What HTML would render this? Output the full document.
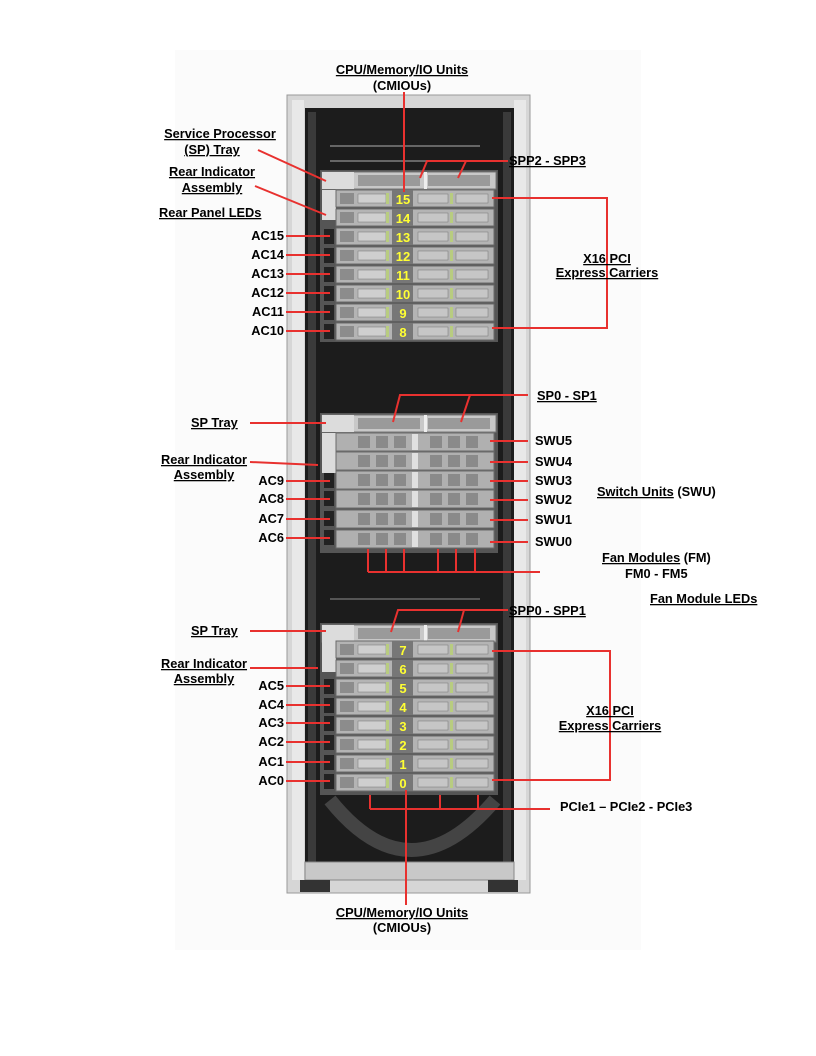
<!DOCTYPE html>
<html><head><meta charset="utf-8"><style>
html,body{margin:0;padding:0;background:#fff}
svg{display:block}
text{font-family:"Liberation Sans",Arial,sans-serif;font-weight:bold;font-size:12.8px;fill:#000}
.u{text-decoration:underline}
.n{fill:#ffff33;font-size:13px}
</style></head><body>
<svg width="816" height="1056" viewBox="0 0 816 1056" xmlns="http://www.w3.org/2000/svg">
<defs>
<g id="blade">
  <rect x="336" y="0" width="158" height="17" fill="#b4b4b4" stroke="#6a6a6a" stroke-width="1"/>
  <rect x="340" y="3" width="14" height="11" fill="#8c8c8c"/>
  <rect x="358" y="4" width="28" height="9" fill="#cfcfcf" stroke="#777" stroke-width="0.5"/>
  <rect x="392" y="0" width="21" height="17" fill="#777"/>
  <rect x="418" y="4" width="30" height="9" fill="#c6c6c6" stroke="#777" stroke-width="0.5"/>
  <rect x="456" y="4" width="32" height="9" fill="#c6c6c6" stroke="#777" stroke-width="0.5"/>
  <rect x="386" y="3" width="3" height="11" fill="#b8cc80"/>
  <rect x="450" y="3" width="3" height="11" fill="#b8cc80"/>
</g>
<g id="swu">
  <rect x="336" y="0" width="158" height="18" fill="#b0b0b0" stroke="#6a6a6a" stroke-width="1"/>
  <rect x="358" y="3" width="12" height="12" fill="#8a8a8a"/>
  <rect x="376" y="3" width="12" height="12" fill="#8a8a8a"/>
  <rect x="394" y="3" width="12" height="12" fill="#8a8a8a"/>
  <rect x="412" y="1" width="6" height="16" fill="#e0e0e0"/>
  <rect x="430" y="3" width="12" height="12" fill="#8a8a8a"/>
  <rect x="448" y="3" width="12" height="12" fill="#8a8a8a"/>
  <rect x="466" y="3" width="12" height="12" fill="#8a8a8a"/>
</g>
<g id="sptray">
  <rect x="322" y="0" width="174" height="17" fill="#c8c8c8" stroke="#777"/>
  <rect x="322" y="0" width="32" height="17" fill="#dcdcdc"/>
  <rect x="358" y="3" width="62" height="11" fill="#9a9a9a"/>
  <rect x="428" y="3" width="62" height="11" fill="#9a9a9a"/>
  <rect x="424" y="0" width="3" height="17" fill="#eee"/>
</g>
<g id="acleds">
  <rect x="324" y="0" width="10" height="15" fill="#222"/>
</g>
</defs>

<rect x="175" y="50" width="466" height="900" fill="#fbfbfb"/>
<rect x="287" y="95" width="243" height="798" fill="#d6d6d6" stroke="#999"/>
<rect x="292" y="100" width="12" height="780" fill="#e8e8e8"/>
<rect x="514" y="100" width="12" height="780" fill="#e8e8e8"/>
<rect x="305" y="108" width="209" height="758" fill="#1c1c1c"/>
<rect x="308" y="112" width="8" height="750" fill="#3a3a3a"/>
<rect x="503" y="112" width="8" height="750" fill="#3a3a3a"/>
<rect x="330" y="145" width="150" height="2" fill="#666"/>
<rect x="330" y="160" width="150" height="2" fill="#666"/>
<rect x="330" y="598" width="150" height="2" fill="#555"/>
<path d="M330 800 Q410 900 495 800" stroke="#444" stroke-width="14" fill="none"/>
<rect x="305" y="862" width="209" height="18" fill="#c8c8c8" stroke="#888"/>
<rect x="300" y="880" width="30" height="12" fill="#333"/>
<rect x="488" y="880" width="30" height="12" fill="#333"/>

<rect x="320" y="170" width="178" height="172" fill="#555"/>
<use href="#sptray" y="172"/>
<rect x="322" y="190" width="14" height="30" fill="#dcdcdc"/>
<use href="#blade" y="190"/><use href="#blade" y="209"/><use href="#blade" y="228"/><use href="#blade" y="247"/>
<use href="#blade" y="266"/><use href="#blade" y="285"/><use href="#blade" y="304"/><use href="#blade" y="323"/>
<use href="#acleds" y="229"/><use href="#acleds" y="248"/><use href="#acleds" y="267"/><use href="#acleds" y="286"/><use href="#acleds" y="305"/><use href="#acleds" y="324"/>
<text class="n" x="403" y="204" text-anchor="middle">15</text>
<text class="n" x="403" y="223" text-anchor="middle">14</text>
<text class="n" x="403" y="242" text-anchor="middle">13</text>
<text class="n" x="403" y="261" text-anchor="middle">12</text>
<text class="n" x="403" y="280" text-anchor="middle">11</text>
<text class="n" x="403" y="299" text-anchor="middle">10</text>
<text class="n" x="403" y="318" text-anchor="middle">9</text>
<text class="n" x="403" y="337" text-anchor="middle">8</text>

<rect x="320" y="413" width="178" height="140" fill="#555"/>
<use href="#sptray" y="415"/>
<rect x="322" y="433" width="14" height="40" fill="#dcdcdc"/>
<use href="#swu" y="433"/><use href="#swu" y="452"/><use href="#swu" y="471"/><use href="#swu" y="490"/><use href="#swu" y="510"/><use href="#swu" y="530"/>
<use href="#acleds" y="473"/><use href="#acleds" y="491"/><use href="#acleds" y="511"/><use href="#acleds" y="530"/>

<rect x="320" y="623" width="178" height="172" fill="#555"/>
<use href="#sptray" y="625"/>
<rect x="322" y="642" width="14" height="30" fill="#dcdcdc"/>
<use href="#blade" y="641"/><use href="#blade" y="660"/><use href="#blade" y="679"/><use href="#blade" y="698"/>
<use href="#blade" y="717"/><use href="#blade" y="736"/><use href="#blade" y="755"/><use href="#blade" y="774"/>
<use href="#acleds" y="679"/><use href="#acleds" y="698"/><use href="#acleds" y="716"/><use href="#acleds" y="735"/><use href="#acleds" y="755"/><use href="#acleds" y="774"/>
<text class="n" x="403" y="655" text-anchor="middle">7</text>
<text class="n" x="403" y="674" text-anchor="middle">6</text>
<text class="n" x="403" y="693" text-anchor="middle">5</text>
<text class="n" x="403" y="712" text-anchor="middle">4</text>
<text class="n" x="403" y="731" text-anchor="middle">3</text>
<text class="n" x="403" y="750" text-anchor="middle">2</text>
<text class="n" x="403" y="769" text-anchor="middle">1</text>
<text class="n" x="403" y="788" text-anchor="middle">0</text>

<g stroke="#e8312f" stroke-width="2" fill="none">
<path d="M404 92V192"/>
<path d="M258 150L326 181"/>
<path d="M255 186L326 215"/>
<path d="M286 236H330M286 255H330M286 274H330M286 293H330M286 312H330M286 331H330"/>
<path d="M508 161H427L420 178M466 161L458 178"/>
<path d="M492 198H607V328H492"/>
<path d="M528 395H400L393 422M470 395L461 422"/>
<path d="M250 423H326"/>
<path d="M250 462L318 465"/>
<path d="M286 481H330M286 499H330M286 519H330M286 538H330"/>
<path d="M490 441H528M490 462H528M490 481H528M490 500H528M490 520H528M490 542H528"/>
<path d="M368 549V572M386 549V572M404 549V572M438 549V572M456 549V572M475 549V572M368 572H540"/>
<path d="M508 610H398L391 632M464 610L458 632"/>
<path d="M250 631H326"/>
<path d="M250 668L318 668"/>
<path d="M286 686H330M286 705H330M286 723H330M286 742H330M286 762H330M286 781H330"/>
<path d="M492 651H610V780H492"/>
<path d="M370 795V809M440 795V809M478 795V809M370 809H550"/>
<path d="M406 790V905"/>
</g>

<text class="u" x="402" y="74" text-anchor="middle">CPU/Memory/IO Units</text>
<text x="402" y="90" text-anchor="middle">(CMIOUs)</text>
<text class="u" x="220" y="138" text-anchor="middle">Service Processor</text>
<text class="u" x="212" y="154" text-anchor="middle">(SP) Tray</text>
<text class="u" x="212" y="176" text-anchor="middle">Rear Indicator</text>
<text class="u" x="212" y="192" text-anchor="middle">Assembly</text>
<text class="u" x="159" y="217">Rear Panel LEDs</text>
<g text-anchor="end">
<text x="284" y="240">AC15</text><text x="284" y="259">AC14</text><text x="284" y="278">AC13</text>
<text x="284" y="297">AC12</text><text x="284" y="316">AC11</text><text x="284" y="335">AC10</text>
<text x="284" y="485">AC9</text><text x="284" y="503">AC8</text><text x="284" y="523">AC7</text><text x="284" y="542">AC6</text>
<text x="284" y="690">AC5</text><text x="284" y="709">AC4</text><text x="284" y="727">AC3</text>
<text x="284" y="746">AC2</text><text x="284" y="766">AC1</text><text x="284" y="785">AC0</text>
</g>
<text class="u" x="509" y="165">SPP2 - SPP3</text>
<text class="u" x="607" y="263" text-anchor="middle">X16 PCI</text>
<text class="u" x="607" y="277" text-anchor="middle">Express Carriers</text>
<text class="u" x="537" y="400">SP0 - SP1</text>
<text class="u" x="191" y="427">SP Tray</text>
<text class="u" x="204" y="464" text-anchor="middle">Rear Indicator</text>
<text class="u" x="204" y="479" text-anchor="middle">Assembly</text>
<text x="535" y="445">SWU5</text><text x="535" y="466">SWU4</text><text x="535" y="485">SWU3</text>
<text x="535" y="504">SWU2</text><text x="535" y="524">SWU1</text><text x="535" y="546">SWU0</text>
<text x="597" y="496"><tspan class="u">Switch Units</tspan> (SWU)</text>
<text x="602" y="562"><tspan class="u">Fan Modules</tspan> (FM)</text>
<text x="625" y="578">FM0 - FM5</text>
<text class="u" x="650" y="603">Fan Module LEDs</text>
<text class="u" x="509" y="615">SPP0 - SPP1</text>
<text class="u" x="191" y="635">SP Tray</text>
<text class="u" x="204" y="668" text-anchor="middle">Rear Indicator</text>
<text class="u" x="204" y="683" text-anchor="middle">Assembly</text>
<text class="u" x="610" y="715" text-anchor="middle">X16 PCI</text>
<text class="u" x="610" y="730" text-anchor="middle">Express Carriers</text>
<text x="560" y="811">PCIe1 – PCIe2 - PCIe3</text>
<text class="u" x="402" y="917" text-anchor="middle">CPU/Memory/IO Units</text>
<text x="402" y="932" text-anchor="middle">(CMIOUs)</text>
</svg>
</body></html>
